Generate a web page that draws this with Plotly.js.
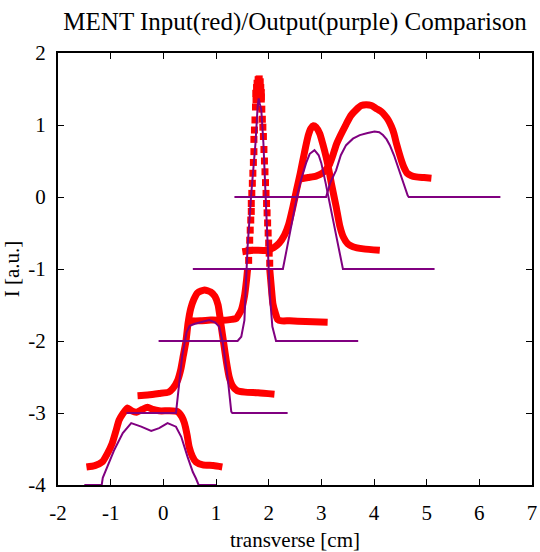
<!DOCTYPE html>
<html>
<head>
<meta charset="utf-8">
<script src="https://cdn.plot.ly/plotly-3.0.1.min.js"></script>
<style>html,body{margin:0;padding:0;background:#fff;}#chart{width:540px;height:552px;}</style>
</head>
<body>
<div id="chart"></div>
<script>
// ---- Data ----
// Purple: MENT output profiles (each drawn on its own baseline)
const purple1X = [-1.5,-1.17,-1.15,-1.09,-0.93,-0.77,-0.61,-0.42,-0.23,-0.08,0.08,0.24,0.34,0.46,0.56,0.62,0.67,1.0];
const purple1Y = [-4,-4,-3.9,-3.79,-3.51,-3.28,-3.14,-3.19,-3.25,-3.21,-3.14,-3.19,-3.33,-3.61,-3.82,-3.91,-4,-4];
const purple2X = [-0.7,0.24,0.3,0.36,0.44,0.5,0.6,0.75,0.87,0.98,1.06,1.13,1.22,1.29,1.31,2.36];
const purple2Y = [-3,-3,-2.6,-2.2,-1.88,-1.79,-1.76,-1.73,-1.71,-1.74,-1.8,-2.03,-2.5,-2.98,-3,-3];
const purple3X = [-0.09,1.41,1.48,1.54,1.56,1.6,1.67,1.75,1.79,1.81,1.83,1.86,1.9,1.94,1.97,2.02,2.07,2.14,3.7];
const purple3Y = [-2,-2,-1.94,-1.71,-1.34,-0.69,0.05,0.75,1.25,1.37,1.3,1.21,0.75,0.05,-0.69,-1.34,-1.8,-2,-2];
const purple4X = [0.56,2.27,2.35,2.45,2.55,2.62,2.71,2.78,2.87,2.95,3.0,3.08,3.16,3.25,3.35,3.41,5.15];
const purple4Y = [-1,-1,-0.7,-0.3,0.05,0.25,0.47,0.6,0.65,0.58,0.47,0.2,-0.09,-0.45,-0.83,-1,-1];
const purple5X = [1.35,3.09,3.17,3.28,3.37,3.47,3.6,3.73,3.88,4.01,4.1,4.17,4.24,4.3,4.38,4.45,4.55,4.64,4.66,6.4];
const purple5Y = [0,0,0.2,0.37,0.58,0.72,0.81,0.86,0.89,0.91,0.9,0.86,0.8,0.72,0.58,0.42,0.2,0.02,0,0];

// Red: MENT input profiles
const red1X = [-1.46,-1.3,-1.16,-1.06,-0.97,-0.9,-0.84,-0.76,-0.68,-0.6,-0.51,-0.4,-0.3,-0.2,-0.08,0.1,0.27,0.35,0.4,0.45,0.49,0.55,0.62,0.75,0.95,1.12];
const red1Y = [-3.75,-3.73,-3.68,-3.56,-3.42,-3.25,-3.1,-3.0,-2.93,-2.97,-2.99,-2.95,-2.92,-2.95,-2.97,-2.97,-2.98,-3.05,-3.14,-3.3,-3.47,-3.6,-3.68,-3.72,-3.73,-3.75];
const red2X = [-0.49,-0.3,-0.08,0.1,0.18,0.27,0.33,0.38,0.43,0.47,0.52,0.58,0.65,0.78,0.9,0.98,1.04,1.1,1.15,1.2,1.25,1.31,1.4,1.55,1.8,2.11];
const red2Y = [-2.76,-2.75,-2.73,-2.71,-2.66,-2.55,-2.4,-2.2,-2.0,-1.75,-1.55,-1.42,-1.33,-1.29,-1.32,-1.38,-1.5,-1.8,-2.05,-2.3,-2.5,-2.62,-2.69,-2.71,-2.72,-2.74];
const red3LeftX = [0.45,0.7,0.9,1.19,1.3,1.38,1.48,1.54,1.58,1.6];
const red3LeftY = [-1.72,-1.72,-1.71,-1.71,-1.7,-1.69,-1.57,-1.38,-1.15,-1.0];
const red3PeakX = [1.62,1.63,1.64,1.65,1.66,1.67,1.67,1.68,1.69,1.70,1.71,1.72,1.72,1.73,1.74,1.75,1.76,
                   1.76,1.77,1.78,1.80,1.82,1.84,1.85,1.86,1.76,1.86,
                   1.86,1.87,1.88,1.89,1.90,1.91,1.92,1.93,1.94,1.95,1.96,1.97,1.98,1.99,2.00,2.01,2.02];
const red3PeakY = [-0.88,-0.74,-0.60,-0.46,-0.32,-0.20,-0.09,0.05,0.19,0.33,0.48,0.63,0.80,0.93,1.07,1.25,1.44,
                   1.44,1.52,1.58,1.63,1.64,1.60,1.52,1.45,1.35,1.36,
                   1.39,1.22,1.08,0.97,0.84,0.66,0.50,0.35,0.20,0.05,-0.09,-0.22,-0.36,-0.50,-0.64,-0.78,-0.92];
const red3RightX = [2.02,2.05,2.08,2.13,2.17,2.25,2.4,2.7,3.12];
const red3RightY = [-1.0,-1.25,-1.48,-1.62,-1.7,-1.72,-1.72,-1.73,-1.74];
const red4X = [1.5,1.7,1.96,2.1,2.2,2.3,2.38,2.46,2.53,2.6,2.68,2.75,2.8,2.85,2.9,2.97,3.03,3.09,3.15,3.19,3.28,3.35,3.42,3.5,3.6,3.8,4.11];
const red4Y = [-0.76,-0.74,-0.74,-0.7,-0.64,-0.53,-0.38,-0.14,0.1,0.33,0.62,0.85,0.95,0.99,0.97,0.88,0.73,0.56,0.35,0.19,-0.13,-0.4,-0.56,-0.65,-0.69,-0.72,-0.74];
const red5X = [2.59,2.75,2.9,3.02,3.1,3.16,3.22,3.28,3.36,3.47,3.56,3.66,3.76,3.85,3.95,4.04,4.13,4.2,4.27,4.33,4.38,4.42,4.47,4.52,4.57,4.63,4.7,4.8,4.95,5.09];
const red5Y = [0.25,0.27,0.29,0.33,0.39,0.46,0.58,0.72,0.85,1.01,1.13,1.21,1.27,1.28,1.27,1.23,1.19,1.14,1.07,0.98,0.88,0.76,0.63,0.51,0.41,0.33,0.3,0.28,0.27,0.26];

// Tick labels
const xTickVals = [-2,-1,0,1,2,3,4,5,6,7];
const xTickText = ['-2','-1','0','1','2','3','4','5','6','7'];
const yTickVals = [-4,-3,-2,-1,0,1,2];
const yTickText = ['-4','-3','-2','-1','0','1','2'];

// ---- Styling ----
const RED = '#ff0000';
const PURPLE = '#800080';
const serif = 'Liberation Serif, Times New Roman, serif';

function redLine(x, y) {
  return {x: x, y: y, type: 'scatter', mode: 'lines',
          line: {color: RED, width: 7, shape: 'spline', smoothing: 0.5},
          hoverinfo: 'skip', showlegend: false};
}
function purpleLine(x, y) {
  return {x: x, y: y, type: 'scatter', mode: 'lines', line: {color: PURPLE, width: 2}, hoverinfo: 'skip', showlegend: false};
}

const traces = [
  redLine(red1X, red1Y),
  redLine(red2X, red2Y),
  redLine(red3LeftX, red3LeftY),
  {x: red3PeakX, y: red3PeakY, type: 'scatter', mode: 'markers',
   marker: {symbol: 'square', size: 7, color: RED, line: {width: 0}}, hoverinfo: 'skip', showlegend: false},
  redLine(red3RightX, red3RightY),
  redLine(red4X, red4Y),
  redLine(red5X, red5Y),
  purpleLine(purple1X, purple1Y),
  purpleLine(purple2X, purple2Y),
  purpleLine(purple3X, purple3Y),
  purpleLine(purple4X, purple4Y),
  purpleLine(purple5X, purple5Y)
];

const axisCommon = {
  showgrid: false, zeroline: false,
  showline: true, linecolor: '#000', linewidth: 2, mirror: 'ticks',
  ticks: 'inside', ticklen: 6, tickwidth: 1, tickcolor: '#000',
  tickmode: 'array',
  tickfont: {family: serif, size: 21, color: '#000'}
};

const layout = {
  width: 540, height: 552,
  margin: {l: 58, r: 8, t: 53, b: 67, pad: 0},
  paper_bgcolor: '#fff', plot_bgcolor: '#fff',
  showlegend: false,
  title: {text: 'MENT Input(red)/Output(purple) Comparison',
          font: {family: serif, size: 25, color: '#000'},
          x: 0.5, xref: 'paper', xanchor: 'center',
          y: 1 - 21/552, yref: 'container', yanchor: 'middle'},
  xaxis: Object.assign({}, axisCommon, {
    range: [-2, 7], tickvals: xTickVals, ticktext: xTickText, ticklabelstandoff: 8,
    title: {text: 'transverse [cm]', font: {family: serif, size: 21, color: '#000'}, standoff: 8}
  }),
  yaxis: Object.assign({}, axisCommon, {
    range: [-4, 2], tickvals: yTickVals, ticktext: yTickText, ticklabelstandoff: 6,
    title: {text: 'I [a.u.]', font: {family: serif, size: 21, color: '#000'}, standoff: 12}
  })
};

Plotly.newPlot('chart', traces, layout, {staticPlot: true, displayModeBar: false});
</script>
</body>
</html>
